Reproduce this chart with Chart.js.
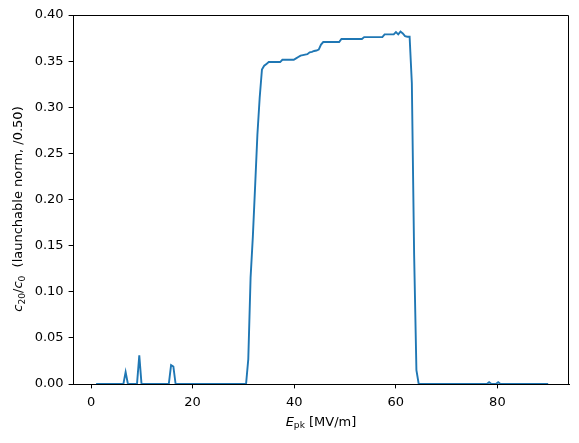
<!DOCTYPE html>
<html>
<head>
<meta charset="utf-8">
<script src="https://cdn.jsdelivr.net/npm/chart.js@4.4.1/dist/chart.umd.min.js"></script>
<style>
  html, body { margin: 0; padding: 0; background: #fff; }
  canvas { display: block; }
</style>
</head>
<body>
<canvas id="chart" width="579" height="443"></canvas>
<script>
// E_pk grid [MV/m], 200 samples from 1 to 90
const epk = [
  1.00, 1.45, 1.89, 2.34, 2.79, 3.24, 3.68, 4.13, 4.58, 5.03,
  5.47, 5.92, 6.37, 6.81, 7.26, 7.71, 8.16, 8.60, 9.05, 9.50,
  9.94, 10.39, 10.84, 11.29, 11.73, 12.18, 12.63, 13.08, 13.52, 13.97,
  14.42, 14.86, 15.31, 15.76, 16.21, 16.65, 17.10, 17.55, 17.99, 18.44,
  18.89, 19.34, 19.78, 20.23, 20.68, 21.13, 21.57, 22.02, 22.47, 22.91,
  23.36, 23.81, 24.26, 24.70, 25.15, 25.60, 26.04, 26.49, 26.94, 27.39,
  27.83, 28.28, 28.73, 29.18, 29.62, 30.07, 30.52, 30.96, 31.41, 31.86,
  32.31, 32.75, 33.20, 33.65, 34.09, 34.54, 34.99, 35.44, 35.88, 36.33,
  36.78, 37.23, 37.67, 38.12, 38.57, 39.01, 39.46, 39.91, 40.36, 40.80,
  41.25, 41.70, 42.15, 42.59, 43.04, 43.49, 43.93, 44.38, 44.83, 45.28,
  45.72, 46.17, 46.62, 47.07, 47.51, 47.96, 48.41, 48.85, 49.30, 49.75,
  50.20, 50.64, 51.09, 51.54, 51.98, 52.43, 52.88, 53.33, 53.77, 54.22,
  54.67, 55.12, 55.56, 56.01, 56.46, 56.90, 57.35, 57.80, 58.25, 58.69,
  59.14, 59.59, 60.03, 60.48, 60.93, 61.38, 61.82, 62.27, 62.72, 63.16,
  63.61, 64.06, 64.51, 64.95, 65.40, 65.85, 66.30, 66.74, 67.19, 67.64,
  68.09, 68.53, 68.98, 69.43, 69.87, 70.32, 70.77, 71.22, 71.66, 72.11,
  72.56, 73.00, 73.45, 73.90, 74.35, 74.79, 75.24, 75.69, 76.13, 76.58,
  77.03, 77.48, 77.92, 78.37, 78.82, 79.27, 79.71, 80.16, 80.61, 81.05,
  81.50, 81.95, 82.40, 82.84, 83.29, 83.74, 84.18, 84.63, 85.08, 85.53,
  85.97, 86.42, 86.87, 87.31, 87.76, 88.21, 88.66, 89.10, 89.55, 90.00
]

// c20/c0 (launchable norm, /0.50)
const c20 = [
  0, 0, 0, 0, 0, 0, 0, 0, 0, 0,
  0, 0, 0, 0.013, 0, 0, 0, 0, 0, 0.031,
  0, 0, 0, 0, 0, 0, 0, 0, 0, 0,
  0, 0, 0, 0.0205, 0.019, 0, 0, 0, 0, 0,
  0, 0, 0, 0, 0, 0, 0, 0, 0, 0,
  0, 0, 0, 0, 0, 0, 0, 0, 0, 0,
  0, 0, 0, 0, 0, 0, 0, 0.027, 0.115, 0.16,
  0.215, 0.27, 0.31, 0.341, 0.345, 0.347, 0.349, 0.349, 0.349, 0.349,
  0.349, 0.349, 0.3515, 0.3515, 0.3515, 0.3515, 0.3515, 0.3515, 0.353, 0.3545,
  0.356, 0.3565, 0.357, 0.3575, 0.3595, 0.360, 0.361, 0.3615, 0.3625, 0.368,
  0.3707, 0.3707, 0.3707, 0.3707, 0.3707, 0.3707, 0.3707, 0.3707, 0.374, 0.374,
  0.374, 0.374, 0.374, 0.374, 0.374, 0.374, 0.374, 0.374, 0.376, 0.376,
  0.376, 0.376, 0.376, 0.376, 0.376, 0.376, 0.376, 0.379, 0.379, 0.379,
  0.379, 0.379, 0.3815, 0.379, 0.382, 0.380, 0.377, 0.3765, 0.3765, 0.326,
  0.14, 0.015, 0, 0, 0, 0, 0, 0, 0, 0,
  0, 0, 0, 0, 0, 0, 0, 0, 0, 0,
  0, 0, 0, 0, 0, 0, 0, 0, 0, 0,
  0, 0, 0, 0.002, 0, 0, 0, 0.002, 0, 0,
  0, 0, 0, 0, 0, 0, 0, 0, 0, 0,
  0, 0, 0, 0, 0, 0, 0, 0, 0, 0
]

const xTicks = [0, 20, 40, 60, 80]
const yTicks = [0, 0.05, 0.10, 0.15, 0.20, 0.25, 0.30, 0.35, 0.40]

const FONT = 'DejaVu Sans'
const FS = 13

// draw mixed text: [text, style] with style 'i' italic, 's' subscript, '' plain
function partFont(style) {
    if (style === 'i') return 'italic ' + FS + 'px "' + FONT + '"'
    if (style === 's') return (FS * 0.7) + 'px "' + FONT + '"'
    return FS + 'px "' + FONT + '"'
}

function drawParts(ctx, parts, cx, baseline) {
    let total = 0
    parts.forEach(p => {
        ctx.font = partFont(p[1])
        total += ctx.measureText(p[0]).width
    })
    let x = cx - total / 2
    ctx.textAlign = 'left'
    ctx.textBaseline = 'alphabetic'
    parts.forEach(p => {
        ctx.font = partFont(p[1])
        const dy = p[1] === 's' ? 2.9 : 0
        ctx.fillText(p[0], x, baseline + dy)
        x += ctx.measureText(p[0]).width
    })
}

const framePlugin = {
    id: 'frame',
    afterDraw(chart) {
        const ctx = chart.ctx
        const a = chart.chartArea
        ctx.save()
        ctx.strokeStyle = '#000'
        ctx.lineWidth = 1
        ctx.beginPath()
        const top = Math.round(a.top) + 0.5
        const right = Math.round(a.right) - 0.5
        ctx.moveTo(a.left, top)
        ctx.lineTo(right, top)
        ctx.lineTo(right, a.bottom)
        ctx.stroke()

        ctx.fillStyle = '#000'
        // x axis title
        drawParts(ctx, [['E', 'i'], ['pk', 's'], [' [MV/m]', '']], (a.left + a.right) / 2, 425.5)

        // y axis title
        ctx.translate(22, 209)
        ctx.rotate(-Math.PI / 2)
        drawParts(ctx, [['c', 'i'], ['20', 's'], ['/', ''], ['c', 'i'], ['0', 's'], ['  (launchable norm, /0.50)', '']], 0, 0)
        ctx.restore()
    }
}

const ctx = document.getElementById('chart').getContext('2d')

new Chart(ctx, {
    type: 'line',
    data: {
        datasets: [{
            data: epk.map((x, i) => ({ x: x, y: c20[i] })),
            borderColor: '#1f77b4',
            borderWidth: 1.9,
            pointRadius: 0,
            tension: 0,
            fill: false
        }]
    },
    options: {
        responsive: false,
        animation: false,
        layout: { padding: { top: 15, right: 10, left: 0, bottom: 0 } },
        plugins: {
            legend: { display: false },
            tooltip: { enabled: false }
        },
        scales: {
            x: {
                type: 'linear',
                min: -3.55,
                max: 94.1,
                afterBuildTicks: s => { s.ticks = xTicks.map(v => ({ value: v })) },
                afterFit: s => { s.height = 59 },
                grid: { drawOnChartArea: false, tickLength: 4.4, tickColor: '#000', tickWidth: 1 },
                border: { color: '#000', width: 1 },
                ticks: {
                    color: '#000',
                    font: { family: FONT, size: FS },
                    padding: 6,
                    maxRotation: 0,
                    callback: v => String(v)
                }
            },
            y: {
                min: 0,
                max: 0.4,
                afterBuildTicks: s => { s.ticks = yTicks.map(v => ({ value: v })) },
                afterFit: s => { s.width = 73 },
                grid: { drawOnChartArea: false, tickLength: 4.4, tickColor: '#000', tickWidth: 1 },
                border: { color: '#000', width: 1 },
                ticks: {
                    color: '#000',
                    font: { family: FONT, size: FS },
                    padding: 5,
                    callback: v => v.toFixed(2)
                }
            }
        }
    },
    plugins: [framePlugin]
})
</script>
</body>
</html>
